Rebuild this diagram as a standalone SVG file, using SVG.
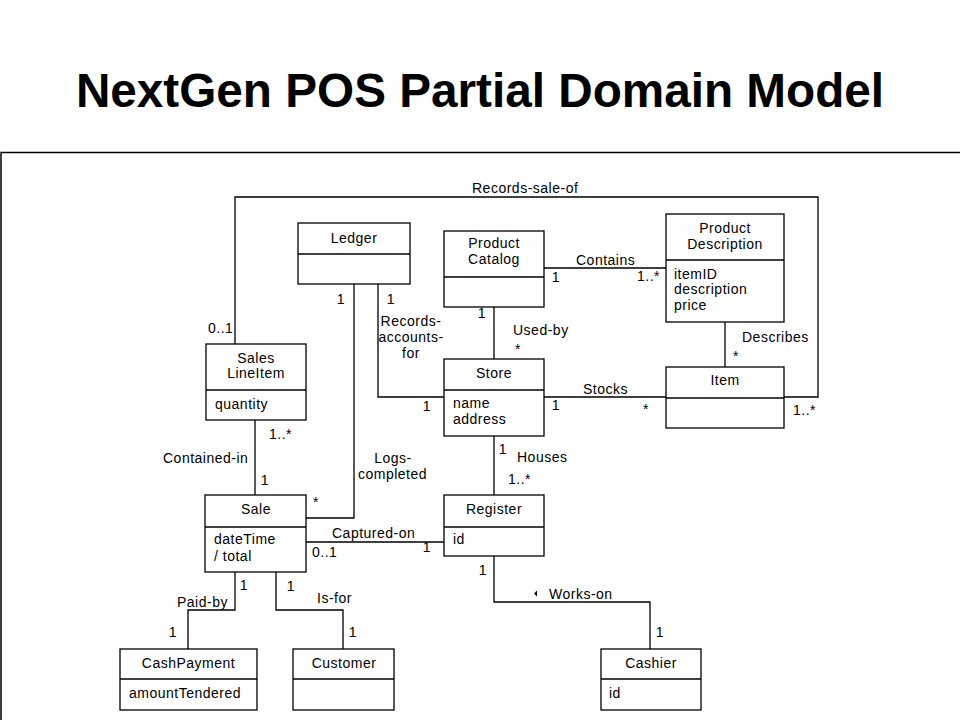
<svg xmlns="http://www.w3.org/2000/svg" width="960" height="720" viewBox="0 0 960 720">
<style>
.box{fill:#fff;stroke:#000;stroke-width:1.3}
.div{stroke:#000;stroke-width:1.3}
.ln{fill:none;stroke:#000;stroke-width:1.3}
text{font-family:"Liberation Sans",Arial,sans-serif;font-size:14px;letter-spacing:0.5px;fill:#000}
.c{text-anchor:middle}
.title{font-size:47.7px;font-weight:bold;letter-spacing:0}
</style>
<rect width="960" height="720" fill="#fff"/>
<text class="title c" x="480" y="107">NextGen POS Partial Domain Model</text>
<path d="M960,152.5 H1 V720" fill="none" stroke="#000" stroke-width="1.5"/>

<g id="connectors">
<polyline class="ln" points="235,344 235,197 818,197 818,397 784,397"/>
<polyline class="ln" points="354,284 354,518 306,518"/>
<polyline class="ln" points="378,284 378,397 444,397"/>
<line class="ln" x1="544" y1="268" x2="666" y2="268"/>
<line class="ln" x1="494" y1="307" x2="494" y2="359"/>
<line class="ln" x1="725" y1="322" x2="725" y2="367"/>
<line class="ln" x1="544" y1="397" x2="666" y2="397"/>
<line class="ln" x1="255" y1="420" x2="255" y2="495"/>
<line class="ln" x1="494" y1="436" x2="494" y2="495"/>
<line class="ln" x1="306" y1="542" x2="444" y2="542"/>
<polyline class="ln" points="235,572 235,610 188,610 188,649"/>
<polyline class="ln" points="276,572 276,610 343,610 343,649"/>
<polyline class="ln" points="494,556 494,602 650,602 650,649"/>
<polygon points="534,593.5 537,590.5 537,596.5" fill="#000"/>

<text x="472" y="193">Records-sale-of</text>
<text x="208" y="333">0..1</text>
<text class="c" x="341" y="304">1</text>
<text class="c" x="391" y="304">1</text>
<text class="c" x="411" y="326">Records-</text>
<text class="c" x="411" y="342">accounts-</text>
<text class="c" x="411" y="358">for</text>
<text class="c" x="427" y="411">1</text>
<text x="576" y="265">Contains</text>
<text class="c" x="556" y="282">1</text>
<text x="637" y="281">1..*</text>
<text class="c" x="482" y="318">1</text>
<text x="513" y="335">Used-by</text>
<text class="c" x="518" y="354">*</text>
<text x="742" y="342">Describes</text>
<text class="c" x="736" y="361">*</text>
<text x="583" y="394">Stocks</text>
<text class="c" x="556" y="410">1</text>
<text class="c" x="646" y="414">*</text>
<text x="793" y="415">1..*</text>
<text x="269" y="439">1..*</text>
<text x="163" y="463">Contained-in</text>
<text class="c" x="265" y="485">1</text>
<text class="c" x="316" y="507">*</text>
<text class="c" x="393" y="463">Logs-</text>
<text class="c" x="392.5" y="479">completed</text>
<text x="332" y="538">Captured-on</text>
<text x="312" y="557">0..1</text>
<text class="c" x="427" y="552">1</text>
<text class="c" x="503" y="454">1</text>
<text x="517" y="462">Houses</text>
<text x="508" y="484">1..*</text>
<text class="c" x="483" y="575">1</text>
<text class="c" x="244" y="590">1</text>
<text x="177" y="607">Paid-by</text>
<text class="c" x="173" y="637">1</text>
<text class="c" x="291" y="591">1</text>
<text x="317" y="603">Is-for</text>
<text class="c" x="353" y="637">1</text>
<text x="549" y="599">Works-on</text>
<text class="c" x="660" y="637">1</text>
</g>

<g id="ledger">
<rect class="box" x="298" y="223" width="112" height="61"/>
<line class="div" x1="298" y1="254" x2="410" y2="254"/>
<text class="c" x="354" y="243">Ledger</text>
</g>
<g id="product-catalog">
<rect class="box" x="444" y="231" width="100" height="76"/>
<line class="div" x1="444" y1="277" x2="544" y2="277"/>
<text class="c" x="494" y="248">Product</text>
<text class="c" x="494" y="264">Catalog</text>
</g>
<g id="product-description">
<rect class="box" x="666" y="214" width="118" height="108"/>
<line class="div" x1="666" y1="260" x2="784" y2="260"/>
<text class="c" x="725" y="233">Product</text>
<text class="c" x="725" y="249">Description</text>
<text x="674" y="279">itemID</text>
<text x="674" y="294">description</text>
<text x="674" y="310">price</text>
</g>
<g id="sales-line-item">
<rect class="box" x="206" y="344" width="100" height="76"/>
<line class="div" x1="206" y1="390" x2="306" y2="390"/>
<text class="c" x="256" y="363">Sales</text>
<text class="c" x="256" y="378">LineItem</text>
<text x="215" y="409">quantity</text>
</g>
<g id="store">
<rect class="box" x="444" y="359" width="100" height="77"/>
<line class="div" x1="444" y1="390" x2="544" y2="390"/>
<text class="c" x="494" y="378">Store</text>
<text x="453" y="408">name</text>
<text x="453" y="424">address</text>
</g>
<g id="item">
<rect class="box" x="666" y="367" width="118" height="61"/>
<line class="div" x1="666" y1="398" x2="784" y2="398"/>
<text class="c" x="725" y="385">Item</text>
</g>
<g id="sale">
<rect class="box" x="205" y="495" width="101" height="77"/>
<line class="div" x1="205" y1="527" x2="306" y2="527"/>
<text class="c" x="256" y="514">Sale</text>
<text x="214" y="544">dateTime</text>
<text x="214" y="561">/ total</text>
</g>
<g id="register">
<rect class="box" x="444" y="495" width="100" height="61"/>
<line class="div" x1="444" y1="527" x2="544" y2="527"/>
<text class="c" x="494" y="514">Register</text>
<text x="453" y="544">id</text>
</g>
<g id="cash-payment">
<rect class="box" x="120" y="649" width="137" height="61"/>
<line class="div" x1="120" y1="679" x2="257" y2="679"/>
<text class="c" x="188.5" y="668">CashPayment</text>
<text x="129" y="698">amountTendered</text>
</g>
<g id="customer">
<rect class="box" x="293" y="649" width="101" height="61"/>
<line class="div" x1="293" y1="679" x2="394" y2="679"/>
<text class="c" x="344" y="668">Customer</text>
</g>
<g id="cashier">
<rect class="box" x="601" y="649" width="100" height="61"/>
<line class="div" x1="601" y1="679" x2="701" y2="679"/>
<text class="c" x="651" y="668">Cashier</text>
<text x="609" y="698">id</text>
</g>
</svg>
